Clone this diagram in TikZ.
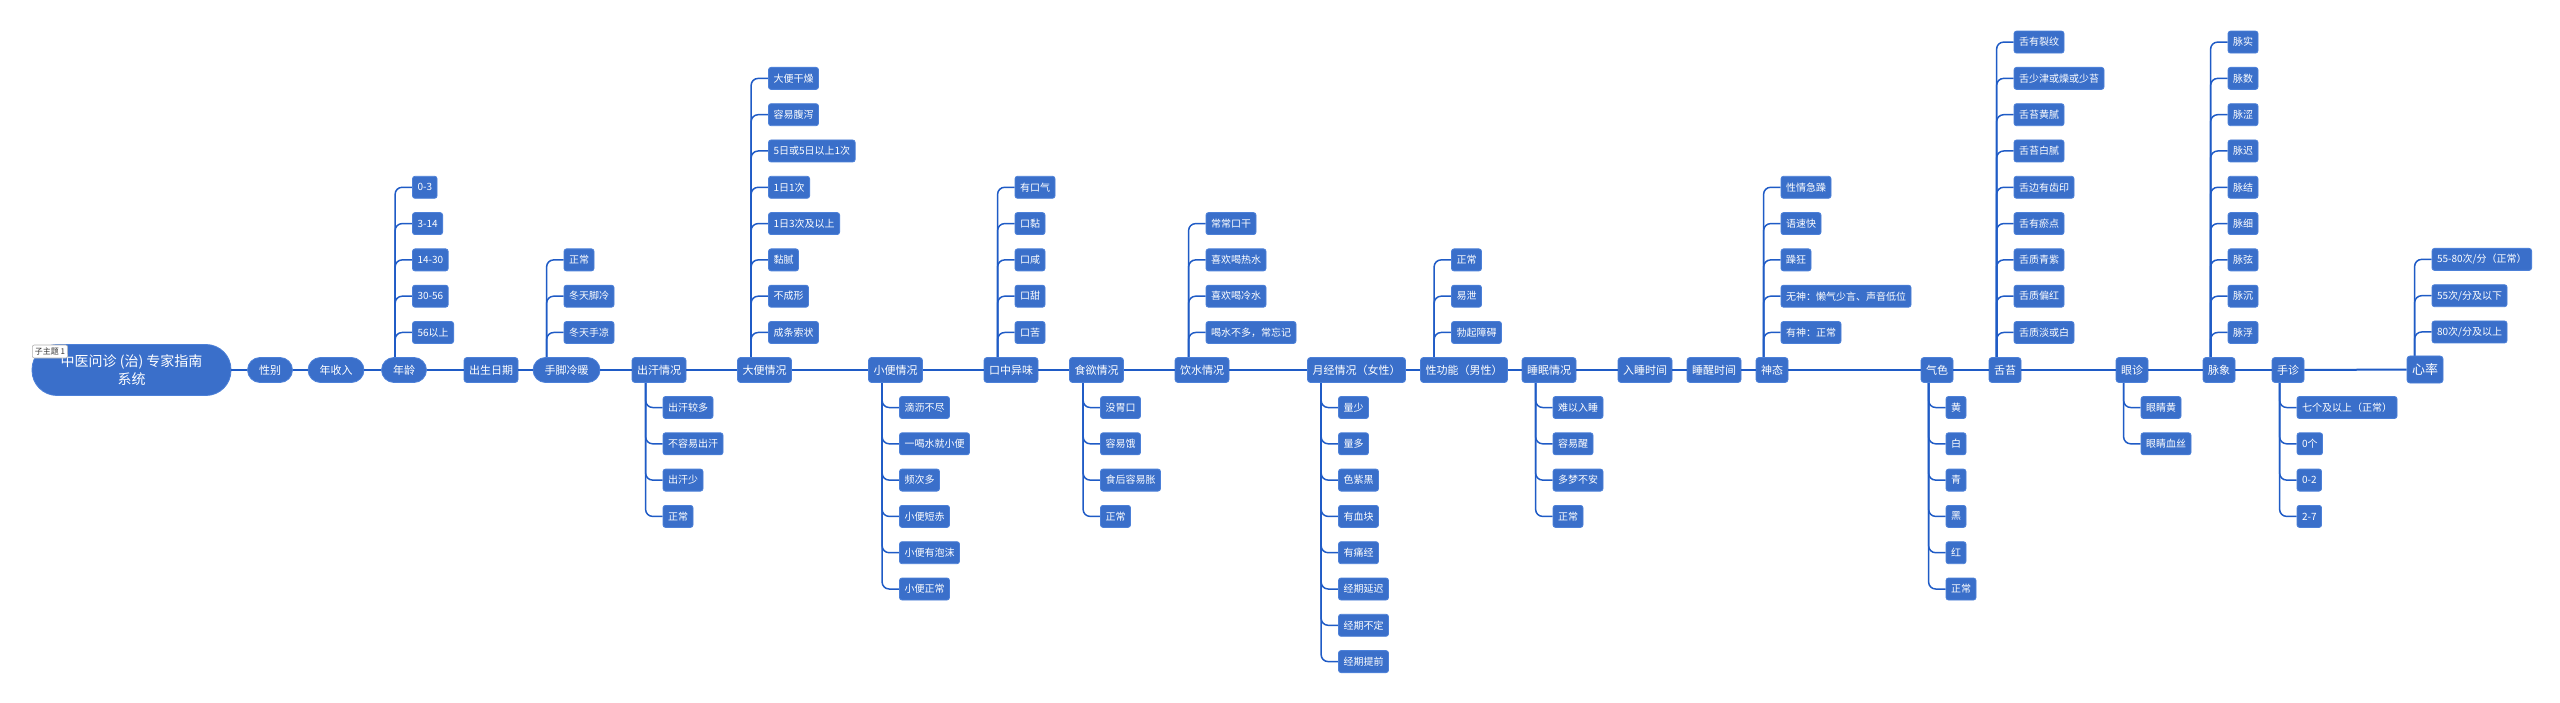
\documentclass[tikz,border=0pt]{standalone}
\usepackage{fontspec}
\setmainfont{Noto Sans CJK SC}
\usetikzlibrary{positioning,calc}
\definecolor{nodeblue}{HTML}{3A6FCA}
\definecolor{edgeblue}{HTML}{4C80D8}
\definecolor{lineblue}{HTML}{1F5BC6}
\pgfdeclarelayer{paper}
\pgfdeclarelayer{bg}
\pgfsetlayers{paper,bg,main}
% parent, -1 above / 1 below, number of leaves, offset of the stem, leaves
\newcommand{\twigs}[5]{%
  \coordinate (#1-l) at ($(#1.west)+(#4,0)$);
  \foreach \t [count=\i] in {#5} {
    \pgfmathsetmacro\lvl{#2>0 ? \i-1 : #3-\i}
    \node[leaf,anchor=west] (#1-\i) at ($(#1-l)+(17,{#2*(37.5+36.3*\lvl)})$) {\t};
    \begin{pgfonlayer}{bg}\draw[twig] (#1-l) |- (#1-\i.west);\end{pgfonlayer}
  }}

\begin{document}
\begin{tikzpicture}[x=1pt,y=-1pt,
  topic/.style={draw=edgeblue,line width=0.8pt,fill=nodeblue,text=white,font=\fontsize{11pt}{13pt}\selectfont,
    rounded corners=3pt,minimum height=25pt,inner xsep=5pt,inner ysep=0pt},
  pill/.style={topic,rounded corners=12.5pt,inner xsep=11.5pt},
  leaf/.style={topic,font=\fontsize{10pt}{12pt}\selectfont,minimum height=22pt,inner xsep=5pt,rounded corners=2.5pt},
  hub/.style={topic,font=\fontsize{14pt}{18pt}\selectfont,align=center,rounded corners=25pt,minimum width=199pt,minimum height=51pt},
  tag/.style={draw=gray!60,line width=0.6pt,fill=white,text=black!80,font=\fontsize{8pt}{9pt}\selectfont,rounded corners=2pt,
    minimum height=13pt,inner xsep=2.5pt,inner ysep=0pt},
  trunk/.style={draw=lineblue,line width=2pt},
  twig/.style={draw=lineblue,line width=1.5pt,rounded corners=7pt}]
\begin{pgfonlayer}{paper}
\path[use as bounding box,fill=white] (0,0) rectangle (2560,703);
\end{pgfonlayer}

\node[hub] (root) at (131.5,370) {中医问诊 (治) 专家指南\\系统};
\node[tag] (tag) at (50,351.5) {子主题 1};
\node[pill] (sex) at (270,370) {性别};
\node[pill] (income) at (336,370) {年收入};
\node[pill] (age) at (404,370) {年龄};
\node[topic] (birth) at (491,370) {出生日期};
\node[pill] (limbs) at (566.5,370) {手脚冷暖};
\node[topic] (sweat) at (659,370) {出汗情况};
\node[topic] (stool) at (764.5,370) {大便情况};
\node[topic] (urine) at (895.5,370) {小便情况};
\node[topic] (taste) at (1011,370) {口中异味};
\node[topic] (appetite) at (1096.5,370) {食欲情况};
\node[topic] (drink) at (1202,370) {饮水情况};
\node[topic] (menses) at (1356.5,370) {月经情况（女性）};
\node[topic] (libido) at (1464,370) {性功能（男性）};
\node[topic] (sleep) at (1549,370) {睡眠情况};
\node[topic] (bedtime) at (1645,370) {入睡时间};
\node[topic] (waketime) at (1714,370) {睡醒时间};
\node[topic] (spirit) at (1772,370) {神态};
\node[topic] (complexion) at (1937,370) {气色};
\node[topic] (tongue) at (2005,370) {舌苔};
\node[topic] (eye) at (2132,370) {眼诊};
\node[topic] (pulse) at (2219,370) {脉象};
\node[topic] (hand) at (2288,370) {手诊};
\node[topic,minimum height=27pt,font=\fontsize{13pt}{15pt}\selectfont] (heart) at (2425,369.5) {心率};

\foreach \a/\b in {root/sex,sex/income,income/age,age/birth,birth/limbs,limbs/sweat,sweat/stool,stool/urine,
  urine/taste,taste/appetite,appetite/drink,drink/menses,menses/libido,libido/sleep,sleep/bedtime,
  bedtime/waketime,waketime/spirit,spirit/complexion,complexion/tongue,tongue/eye,eye/pulse,pulse/hand,hand/heart}
  \draw[trunk] (\a) -- (\b);

\twigs{age}{-1}{5}{14}{0-3,3-14,14-30,30-56,56以上}
\twigs{limbs}{-1}{3}{14}{正常,冬天脚冷,冬天手凉}
\twigs{sweat}{1}{4}{14}{出汗较多,不容易出汗,出汗少,正常}
\twigs{stool}{-1}{8}{14}{大便干燥,容易腹泻,5日或5日以上1次,1日1次,1日3次及以上,黏腻,不成形,成条索状}
\twigs{urine}{1}{6}{14}{滴沥不尽,一喝水就小便,频次多,小便短赤,小便有泡沫,小便正常}
\twigs{taste}{-1}{5}{14}{有口气,口黏,口咸,口甜,口苦}
\twigs{appetite}{1}{4}{14}{没胃口,容易饿,食后容易胀,正常}
\twigs{drink}{-1}{4}{14}{常常口干,喜欢喝热水,喜欢喝冷水,喝水不多，常忘记}
\twigs{menses}{1}{8}{14}{量少,量多,色紫黑,有血块,有痛经,经期延迟,经期不定,经期提前}
\twigs{libido}{-1}{3}{14}{正常,易泄,勃起障碍}
\twigs{sleep}{1}{4}{14}{难以入睡,容易醒,多梦不安,正常}
\twigs{spirit}{-1}{5}{8}{性情急躁,语速快,躁狂,无神：懒气少言、声音低位,有神：正常}
\twigs{complexion}{1}{6}{8}{黄,白,青,黑,红,正常}
\twigs{tongue}{-1}{9}{8}{舌有裂纹,舌少津或燥或少苔,舌苔黄腻,舌苔白腻,舌边有齿印,舌有瘀点,舌质青紫,舌质偏红,舌质淡或白}
\twigs{eye}{1}{2}{8}{眼睛黄,眼睛血丝}
\twigs{pulse}{-1}{9}{8}{脉实,脉数,脉涩,脉迟,脉结,脉细,脉弦,脉沉,脉浮}
\twigs{hand}{1}{4}{8}{七个及以上（正常）,0个,0-2,2-7}
\twigs{heart}{-1}{3}{8}{{55-80次/分（正常）},{55次/分及以下},{80次/分及以上}}
\end{tikzpicture}
\end{document}
